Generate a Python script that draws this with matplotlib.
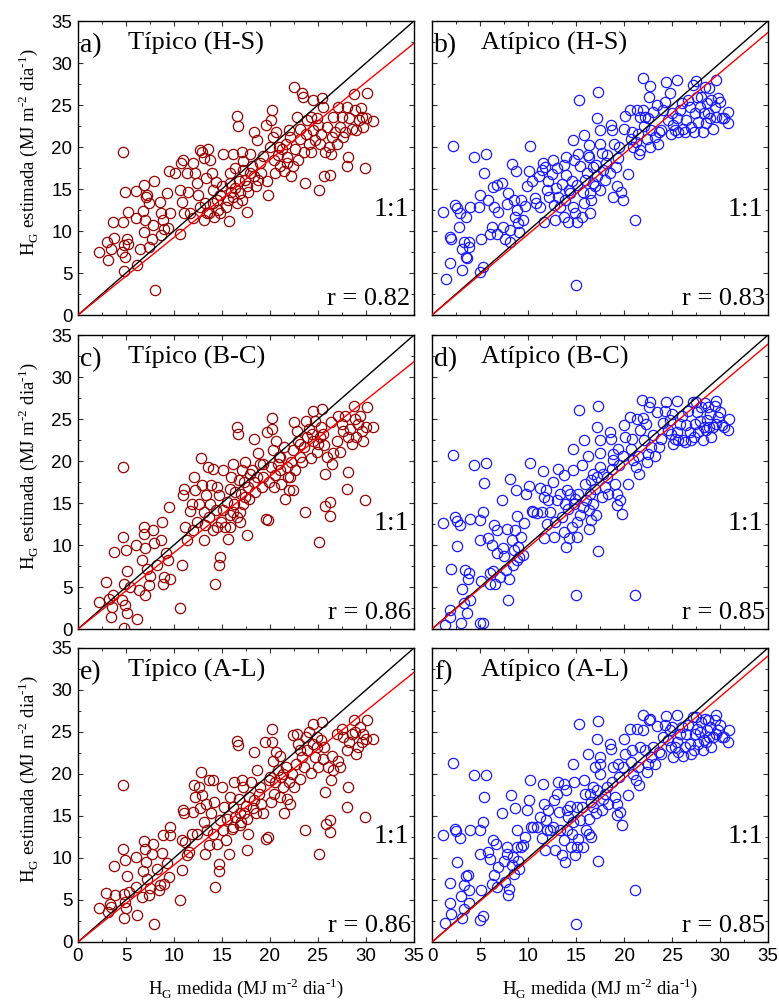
import numpy as np
import matplotlib
matplotlib.use('Agg')
import matplotlib.pyplot as plt

plt.rcParams['font.family'] = 'Liberation Serif'
plt.rcParams['mathtext.fontset'] = 'custom'
plt.rcParams['mathtext.rm'] = 'Liberation Serif'

tip_hs = np.array([
    (2.15, 7.5), (3.0, 8.7), (3.1, 6.5), (3.4, 7.9), (3.7, 11.1), (3.8, 9.2), (4.6, 7.5), (4.75, 8.3),
    (4.7, 19.4), (4.9, 14.6), (4.75, 5.2), (4.9, 6.9), (5.1, 9.1), (5.2, 12.3), (4.7, 11.1), (5.2, 8.5),
    (6.0, 14.8), (6.0, 11.6), (6.1, 6.0), (6.5, 7.9), (6.8, 12.4), (6.9, 15.5), (7.1, 14.1), (7.2, 14.3),
    (7.0, 11.3), (6.9, 9.9), (7.4, 13.3), (7.4, 8.1), (7.7, 9.0), (7.9, 15.9), (7.8, 10.7), (8.0, 3.0),
    (8.5, 13.5), (8.6, 12.1), (8.6, 9.5), (8.9, 11.3), (9.0, 10.2), (9.3, 14.5), (9.4, 10.3), (9.5, 17.1),
    (9.6, 12.2), (10.1, 16.9), (10.6, 9.7), (10.75, 18.1), (10.65, 14.9), (10.9, 18.5), (10.8, 13.5),
    (11.0, 12.1), (11.45, 14.7), (11.35, 16.9), (11.97, 18.1), (12.0, 11.5), (12.2, 16.9), (12.4, 15.7),
    (12.55, 14.3), (12.66, 19.6), (12.9, 19.4), (13.1, 18.7), (13.1, 11.3), (13.25, 13.3), (13.35, 16.3),
    (13.5, 19.8), (13.7, 12.1), (13.8, 18.5), (14.0, 16.9), (14.1, 14.9), (14.2, 11.7), (14.4, 15.8),
    (14.5, 13.7), (14.6, 12.5), (14.8, 14.3), (15.0, 15.3), (15.15, 19.2), (15.4, 12.9), (15.6, 13.7),
    (15.7, 11.2), (15.85, 16.9), (15.95, 14.7), (16.2, 19.2), (16.4, 17.5), (16.6, 23.7), (16.7, 22.5),
    (16.55, 13.3), (16.8, 15.9), (16.9, 14.5), (17.05, 19.4), (17.2, 18.3), (17.2, 17.3), (17.4, 16.1),
    (17.65, 12.3), (17.75, 14.7), (17.9, 19.2), (18.1, 17.7), (18.35, 21.8), (18.55, 15.3), (18.7, 20.8),
    (19.0, 18.1), (19.3, 18.9), (19.6, 22.6), (19.8, 14.3), (20.0, 20.0), (20.1, 23.2), (20.2, 24.4),
    (20.3, 21.2), (20.5, 16.9), (20.6, 21.8), (20.8, 19.0), (21.05, 17.7), (21.3, 19.8), (21.5, 17.1),
    (21.7, 20.4), (21.8, 18.8), (21.95, 22.0), (22.2, 16.5), (22.4, 17.7), (22.5, 27.1), (22.6, 19.8),
    (22.85, 23.6), (22.95, 18.5), (23.1, 21.0), (23.3, 26.4), (23.4, 26.0), (23.5, 19.4), (23.65, 15.7),
    (23.75, 21.6), (23.9, 23.2), (24.1, 20.4), (24.25, 19.4), (24.45, 25.6), (24.5, 22.0), (24.7, 20.8),
    (24.9, 23.4), (25.05, 22.6), (25.15, 14.9), (25.3, 21.6), (25.4, 25.8), (25.5, 24.8), (25.6, 16.5),
    (25.7, 19.4), (25.9, 22.4), (26.25, 16.7), (26.35, 19.2), (26.5, 21.2), (26.6, 23.6), (26.95, 20.4),
    (27.1, 24.8), (27.3, 22.4), (27.5, 23.6), (27.6, 21.2), (27.8, 21.8), (28.0, 17.7), (28.15, 18.8),
    (28.0, 24.8), (28.25, 23.4), (28.5, 22.2), (28.75, 26.3), (28.85, 24.4), (29.0, 22.0), (29.3, 23.2),
    (29.45, 24.6), (29.55, 23.6), (29.65, 22.4), (29.9, 17.5), (30.0, 23.4), (30.1, 26.4), (30.7, 23.1),
    (14.1, 13.3), (14.8, 12.1), (16.2, 14.1), (17.05, 13.7), (17.6, 15.3), (18.3, 16.5), (19.1, 16.9),
    (19.7, 15.9), (20.4, 18.5), (20.9, 20.0), (21.75, 18.1), (22.1, 21.2), (23.1, 22.2), (24.3, 23.6),
    (25.2, 20.4), (26.1, 20.0), (26.8, 21.8), (13.4, 12.1), (15.85, 15.7), (16.4, 15.1), (17.9, 16.9),
    (18.8, 16.1), (12.7, 12.9), (11.7, 12.1),
])

atip_hs = np.array([
    (1.14, 12.3), (1.5, 4.25), (1.9, 9.25), (1.97, 9.0), (1.9, 6.15), (2.18, 20.1), (2.42, 13.1),
    (2.6, 12.7), (2.77, 10.5), (2.88, 12.1), (3.1, 5.3), (3.1, 7.9), (3.3, 8.7), (3.5, 11.7), (3.5, 6.9),
    (3.6, 6.75), (3.8, 8.1), (3.8, 8.7), (4.0, 12.9), (4.4, 18.85), (4.85, 12.8), (4.95, 5.15), (5.0, 14.3),
    (5.1, 9.1), (5.3, 5.75), (5.45, 16.9), (5.65, 19.2), (5.8, 13.7), (6.0, 9.7), (6.25, 10.5), (6.4, 15.2),
    (6.5, 12.9), (6.75, 15.5), (6.75, 9.7), (6.9, 12.3), (7.3, 15.75), (7.4, 10.5), (7.6, 9.1), (7.8, 13.2),
    (7.95, 14.5), (8.1, 10.1), (8.15, 8.7), (8.3, 18.0), (8.5, 13.7), (8.65, 11.7), (8.75, 17.1), (8.8, 12.5),
    (9.0, 10.9), (9.1, 9.9), (9.25, 13.7), (9.45, 11.3), (9.7, 13.0), (9.9, 15.3), (10.05, 17.1),
    (10.2, 20.1), (10.4, 15.9), (10.75, 13.9), (10.85, 13.3), (11.1, 16.5), (11.2, 12.9), (11.45, 17.3),
    (11.6, 18.05), (11.7, 11.1), (11.8, 17.65), (11.95, 14.9), (12.1, 15.9), (12.2, 14.1), (12.5, 16.8),
    (12.65, 18.5), (12.7, 13.1), (12.8, 11.3), (12.9, 15.1), (13.05, 17.5), (13.15, 14.1), (13.3, 12.9),
    (13.5, 15.6), (13.7, 11.7), (13.75, 17.9), (13.85, 13.7), (13.95, 16.7), (14.0, 18.85), (14.2, 11.1),
    (14.3, 14.9), (14.4, 14.5), (14.55, 15.9), (14.65, 12.9), (14.7, 20.8), (14.8, 18.45), (14.9, 12.1),
    (15.0, 3.6), (15.1, 11.1), (15.15, 15.5), (15.25, 19.2), (15.35, 25.6), (15.4, 17.7), (15.6, 11.7),
    (15.7, 14.7), (15.8, 21.4), (15.85, 13.3), (15.95, 16.1), (16.1, 16.9), (16.2, 19.05), (16.3, 20.2),
    (16.4, 18.85), (16.45, 12.1), (16.5, 14.5), (16.6, 13.7), (16.75, 15.75), (16.8, 17.65), (17.0, 15.3),
    (17.1, 17.9), (17.15, 16.5), (17.2, 23.4), (17.3, 26.5), (17.45, 22.0), (17.45, 20.35), (17.5, 14.9),
    (17.7, 19.25), (17.85, 17.3), (18.0, 16.1), (18.1, 18.05), (18.25, 19.05), (18.5, 16.9), (18.6, 22.6),
    (18.7, 22.0), (18.8, 14.1), (18.95, 20.4), (19.15, 17.65), (19.3, 15.3), (19.4, 18.65), (19.5, 20.0),
    (19.65, 14.7), (19.85, 13.7), (20.0, 22.1), (20.1, 23.7), (20.45, 16.8), (20.6, 24.4), (20.7, 20.9),
    (20.8, 21.8), (20.95, 20.0), (21.15, 11.3), (21.25, 20.6), (21.3, 24.4), (21.5, 21.6), (21.6, 19.2),
    (21.65, 19.7), (21.7, 23.6), (21.95, 28.2), (22.0, 24.4), (22.05, 22.5), (22.2, 23.6), (22.35, 21.0),
    (22.5, 23.4), (22.6, 26.0), (22.7, 27.3), (22.75, 20.0), (22.85, 22.0), (23.05, 24.2), (23.2, 21.2),
    (23.4, 25.0), (23.55, 20.35), (23.65, 21.8), (23.9, 22.0), (24.1, 24.4), (24.25, 25.4), (24.4, 27.7),
    (24.6, 23.2), (24.8, 26.4), (24.85, 21.6), (24.95, 24.0), (25.1, 22.6), (25.3, 22.0), (25.5, 28.0),
    (25.55, 23.4), (25.65, 21.8), (25.8, 24.4), (26.0, 25.2), (26.15, 22.2), (26.3, 21.8), (26.5, 23.2),
    (26.7, 25.6), (26.85, 24.8), (27.0, 22.4), (27.15, 27.4), (27.25, 21.8), (27.4, 24.0), (27.5, 27.8),
    (27.6, 26.0), (27.7, 23.0), (27.9, 24.8), (28.05, 26.0), (28.25, 21.8), (28.3, 24.0), (28.4, 27.2),
    (28.5, 22.8), (28.65, 25.2), (28.75, 24.0), (28.85, 27.0), (29.0, 23.4), (29.1, 25.6), (29.3, 22.2),
    (29.45, 24.8), (29.55, 28.0), (29.6, 23.6), (29.8, 25.8), (30.0, 25.4), (30.25, 23.4), (30.4, 23.4),
    (30.85, 24.2), (30.85, 22.8),
])

tip_bc = np.array([
    (2.15, 3.25), (2.95, 5.6), (3.2, 3.6), (3.4, 1.45), (3.55, 2.65), (3.7, 4.0), (3.8, 9.2), (4.7, 19.3),
    (4.7, 10.9), (4.6, 3.5), (4.75, 0.15), (4.8, 5.35), (4.9, 2.85), (5.0, 9.45), (5.1, 1.95), (5.15, 6.9),
    (5.4, 5.0), (6.05, 10.0), (6.15, 1.25), (6.4, 4.6), (6.65, 8.2), (6.85, 12.1), (6.9, 11.3), (7.0, 9.6),
    (7.0, 4.0), (7.2, 7.2), (7.35, 5.2), (7.5, 6.3), (7.8, 11.8), (7.9, 10.2), (8.2, 7.6), (8.6, 10.55),
    (8.8, 12.75), (8.9, 5.4), (8.95, 6.2), (9.15, 9.0), (9.4, 8.2), (9.5, 14.5), (9.55, 6.0), (10.65, 2.45),
    (10.8, 7.6), (10.9, 15.9), (11.0, 16.7), (11.2, 12.15), (11.4, 10.55), (11.7, 14.1), (11.85, 14.9),
    (11.97, 11.75), (12.05, 18.1), (12.2, 16.5), (12.4, 12.75), (12.65, 14.9), (12.85, 20.3), (12.9, 17.1),
    (13.1, 13.95), (13.15, 10.55), (13.25, 12.35), (13.35, 15.9), (13.5, 19.3), (13.6, 13.35), (13.75, 14.9),
    (13.85, 17.1), (14.05, 19.1), (14.1, 11.75), (14.3, 5.4), (14.4, 14.15), (14.45, 16.9), (14.65, 7.6),
    (14.75, 8.6), (14.65, 15.9), (14.9, 12.75), (15.1, 18.9), (15.15, 14.15), (15.3, 12.15), (15.5, 15.1),
    (15.6, 10.75), (15.8, 16.7), (15.85, 13.55), (15.95, 18.1), (16.2, 19.7), (16.25, 14.9), (16.4, 16.3),
    (16.55, 13.35), (16.6, 24.0), (16.7, 23.2), (16.8, 17.7), (16.9, 12.75), (16.95, 16.1), (17.05, 18.9),
    (17.2, 14.9), (17.3, 17.5), (17.4, 19.9), (17.65, 11.15), (17.75, 16.9), (17.85, 15.5), (17.9, 18.5),
    (18.1, 18.9), (18.3, 22.6), (18.45, 16.3), (18.6, 18.1), (18.8, 20.9), (19.0, 19.7), (19.15, 16.9),
    (19.3, 18.1), (19.6, 13.15), (19.65, 23.4), (19.75, 12.95), (19.95, 17.5), (20.1, 19.3), (20.2, 25.1),
    (20.2, 23.8), (20.3, 21.3), (20.4, 16.9), (20.5, 18.3), (20.65, 22.4), (20.8, 19.7), (20.9, 20.5),
    (21.05, 18.9), (21.2, 17.3), (21.5, 21.65), (21.6, 15.5), (21.75, 19.3), (21.9, 18.1), (22.0, 16.5),
    (22.15, 19.9), (22.35, 21.3), (22.45, 16.5), (22.55, 24.6), (22.6, 18.9), (22.85, 23.6), (22.95, 22.4),
    (23.15, 20.5), (23.3, 19.9), (23.5, 21.65), (23.65, 13.9), (23.75, 24.8), (23.9, 22.8), (24.1, 23.8),
    (24.25, 20.3), (24.45, 26.0), (24.5, 22.4), (24.7, 24.8), (24.9, 21.05), (25.05, 22.05), (25.15, 10.4),
    (25.3, 24.0), (25.4, 26.2), (25.5, 23.2), (25.6, 21.85), (25.7, 18.5), (25.7, 14.7), (25.9, 20.5),
    (26.25, 13.5), (26.25, 15.1), (26.35, 24.6), (26.45, 19.7), (26.6, 20.9), (26.95, 22.4), (27.1, 25.4),
    (27.3, 21.05), (27.5, 24.4), (27.65, 23.6), (27.8, 25.4), (28.0, 16.7), (28.15, 18.7), (28.15, 22.8),
    (28.35, 23.8), (28.5, 22.05), (28.75, 26.6), (28.85, 25.0), (29.0, 22.8), (29.2, 24.4), (29.4, 25.4),
    (29.55, 23.6), (29.7, 22.4), (29.9, 15.4), (30.0, 24.0), (30.1, 26.4), (30.7, 24.0),
    (16.2, 13.9), (17.4, 15.7), (18.3, 17.5), (16.9, 13.9), (15.85, 12.15), (14.45, 12.15), (19.3, 19.7),
    (21.05, 20.5), (22.1, 18.1), (23.15, 22.05), (24.35, 23.2), (25.2, 22.8),
])

atip_bc = np.array([
    (1.14, 12.6), (1.4, 0.5), (1.9, 2.25), (1.85, 1.4), (1.97, 7.1), (2.18, 20.7), (2.42, 13.3), (2.6, 12.9),
    (2.65, 9.85), (2.88, 12.35), (3.0, 0.75), (3.1, 4.8), (3.35, 3.05), (3.45, 7.0), (3.65, 1.85), (3.7, 6.0),
    (3.8, 6.7), (4.0, 3.5), (4.0, 13.15), (4.4, 19.55), (4.95, 10.55), (4.95, 12.95), (5.0, 0.67), (5.1, 5.75),
    (5.3, 0.75), (5.35, 13.95), (5.45, 17.4), (5.65, 19.75), (5.8, 10.8), (6.0, 5.35), (6.05, 6.7),
    (6.25, 10.0), (6.4, 6.95), (6.5, 12.35), (6.6, 5.4), (6.75, 11.75), (6.8, 9.0), (7.1, 6.2), (7.3, 15.4),
    (7.4, 9.6), (7.5, 8.65), (7.7, 7.0), (7.85, 11.85), (7.95, 3.5), (8.05, 6.0), (8.15, 17.8), (8.3, 10.55),
    (8.4, 7.6), (8.55, 9.45), (8.65, 11.75), (8.75, 16.5), (8.85, 13.4), (8.9, 8.2), (9.0, 9.8), (9.1, 8.6),
    (9.25, 10.95), (9.45, 8.8), (9.6, 12.6), (9.8, 16.1), (10.05, 17.0), (10.2, 19.75), (10.4, 14.1),
    (10.55, 13.95), (10.9, 13.8), (11.2, 16.8), (11.45, 13.95), (11.6, 18.8), (11.7, 10.8), (11.7, 15.7),
    (11.9, 16.5), (11.95, 12.55), (12.1, 15.4), (12.3, 13.95), (12.6, 17.5), (12.7, 10.9), (12.8, 12.75),
    (13.0, 15.3), (13.15, 19.1), (13.3, 16.1), (13.5, 13.35), (13.7, 11.55), (13.75, 18.3), (13.85, 14.9),
    (13.95, 9.8), (14.05, 16.5), (14.2, 14.3), (14.3, 10.8), (14.4, 16.1), (14.55, 12.15), (14.65, 18.9),
    (14.7, 21.45), (14.8, 14.9), (14.9, 15.5), (15.0, 4.0), (15.05, 12.75), (15.15, 10.95), (15.25, 16.1),
    (15.35, 26.1), (15.4, 13.55), (15.6, 19.5), (15.7, 14.55), (15.85, 22.45), (15.95, 17.3), (16.05, 15.3),
    (16.2, 20.65), (16.3, 14.15), (16.4, 11.95), (16.45, 16.1), (16.55, 17.7), (16.6, 12.95), (16.75, 18.5),
    (16.8, 14.9), (17.0, 16.7), (17.1, 13.55), (17.15, 18.1), (17.2, 24.1), (17.3, 26.5), (17.3, 9.3),
    (17.45, 22.45), (17.45, 20.95), (17.5, 19.3), (17.7, 15.7), (17.85, 18.5), (18.0, 16.9), (18.2, 18.1),
    (18.35, 16.1), (18.55, 23.45), (18.6, 22.65), (18.7, 19.1), (18.8, 20.85), (18.9, 20.1), (19.05, 17.3),
    (19.25, 14.75), (19.3, 16.1), (19.4, 21.45), (19.5, 19.5), (19.6, 15.3), (19.75, 13.75), (19.9, 20.65),
    (20.0, 24.25), (20.1, 22.85), (20.45, 17.3), (20.6, 25.2), (20.7, 21.45), (20.8, 22.65), (20.95, 20.15),
    (21.15, 4.05), (21.2, 19.3), (21.4, 25.0), (21.5, 20.65), (21.6, 18.5), (21.7, 23.65), (21.85, 27.3),
    (22.0, 25.15), (22.05, 22.45), (22.3, 24.45), (22.4, 19.9), (22.5, 20.85), (22.6, 26.4), (22.7, 27.0),
    (22.85, 21.65), (23.05, 23.15), (23.2, 20.65), (23.4, 25.8), (23.65, 21.65), (23.9, 22.65), (24.1, 24.5),
    (24.25, 26.0), (24.4, 27.0), (24.6, 23.65), (24.8, 24.9), (24.85, 23.25), (24.95, 25.6), (25.1, 22.05),
    (25.3, 22.65), (25.5, 27.1), (25.55, 23.45), (25.65, 22.45), (25.8, 24.45), (26.0, 25.4), (26.15, 22.45),
    (26.3, 22.25), (26.5, 24.25), (26.7, 26.0), (26.85, 23.45), (27.0, 22.45), (27.15, 27.0), (27.25, 22.85),
    (27.4, 24.45), (27.5, 27.0), (27.6, 25.8), (27.7, 23.45), (27.9, 24.8), (28.05, 26.4), (28.25, 22.45),
    (28.3, 24.05), (28.4, 26.9), (28.5, 23.65), (28.65, 24.9), (28.75, 26.4), (28.85, 24.05), (29.0, 25.6),
    (29.1, 22.85), (29.3, 24.05), (29.45, 26.6), (29.55, 27.2), (29.6, 24.45), (29.8, 25.2), (30.0, 25.8),
    (30.25, 24.25), (30.4, 24.1), (30.85, 23.65), (30.95, 25.0),
])

tip_al = np.array([
    (2.15, 4.1), (2.95, 5.85), (3.1, 3.6), (3.35, 4.5), (3.45, 4.2), (3.8, 9.1), (3.9, 5.55), (4.7, 18.65),
    (4.7, 11.05), (4.75, 5.7), (4.75, 2.9), (4.9, 9.8), (4.9, 4.75), (5.0, 4.0), (5.1, 7.8), (5.3, 5.95),
    (6.05, 10.1), (6.0, 6.6), (6.15, 3.2), (6.65, 5.35), (6.75, 8.45), (6.9, 12.0), (7.0, 11.1), (7.1, 9.5),
    (7.2, 7.55), (7.35, 5.55), (7.5, 6.45), (7.7, 10.5), (7.8, 11.7), (7.95, 2.2), (8.2, 8.75), (8.4, 6.15),
    (8.5, 6.75), (8.75, 10.6), (8.85, 12.7), (8.95, 6.95), (9.25, 9.35), (9.45, 7.75), (9.55, 13.7),
    (9.6, 12.7), (10.6, 5.05), (10.8, 8.55), (10.8, 12.2), (10.9, 15.75), (11.0, 15.3), (11.15, 11.9),
    (11.4, 10.3), (11.6, 10.7), (11.85, 12.9), (11.97, 15.5), (12.05, 18.65), (12.2, 17.25), (12.4, 12.9),
    (12.65, 18.45), (12.75, 15.9), (12.85, 20.25), (12.9, 17.45), (13.1, 14.3), (13.2, 10.5), (13.35, 16.45),
    (13.4, 13.3), (13.6, 19.25), (13.7, 11.5), (13.85, 15.3), (14.05, 19.25), (14.1, 12.9), (14.2, 16.65),
    (14.3, 6.6), (14.45, 11.7), (14.65, 9.3), (14.7, 8.5), (14.8, 14.5), (15.0, 18.45), (15.1, 13.3),
    (15.2, 16.05), (15.45, 12.1), (15.55, 14.7), (15.7, 10.5), (15.85, 17.25), (16.0, 13.5), (16.2, 16.05),
    (16.25, 19.05), (16.4, 14.9), (16.55, 23.9), (16.7, 23.5), (16.8, 17.05), (16.9, 13.9), (16.95, 14.3),
    (17.05, 19.25), (17.15, 18.45), (17.3, 15.3), (17.5, 16.25), (17.65, 10.9), (17.75, 12.9), (17.85, 17.25),
    (18.0, 19.05), (18.2, 15.9), (18.35, 22.6), (18.55, 15.3), (18.7, 20.45), (18.9, 17.65), (19.05, 16.45),
    (19.25, 15.3), (19.5, 23.8), (19.6, 12.3), (19.8, 12.5), (19.95, 19.25), (20.1, 16.65), (20.2, 25.4),
    (20.2, 23.8), (20.3, 21.6), (20.45, 17.65), (20.55, 19.05), (20.65, 22.6), (20.8, 20.45), (21.0, 17.25),
    (21.05, 22.2), (21.2, 19.65), (21.4, 18.45), (21.5, 15.3), (21.7, 20.85), (21.8, 17.05), (22.0, 19.05),
    (22.1, 16.45), (22.25, 20.05), (22.45, 24.6), (22.5, 18.45), (22.7, 21.25), (22.85, 24.8), (22.95, 23.6),
    (23.15, 19.45), (23.3, 22.0), (23.5, 20.85), (23.65, 13.3), (23.75, 24.4), (23.9, 22.8), (24.1, 25.0),
    (24.25, 20.1), (24.45, 26.0), (24.5, 23.6), (24.7, 22.0), (24.9, 23.2), (25.05, 20.85), (25.15, 10.45),
    (25.3, 24.0), (25.4, 26.2), (25.5, 21.8), (25.6, 23.2), (25.75, 17.85), (25.85, 14.1), (26.0, 20.85),
    (26.25, 14.55), (26.3, 13.1), (26.35, 19.25), (26.45, 22.2), (26.6, 20.45), (26.95, 24.8), (27.1, 21.6),
    (27.3, 20.85), (27.5, 25.4), (27.65, 24.4), (28.0, 16.05), (28.15, 18.45), (28.05, 22.8), (28.25, 23.8),
    (28.5, 24.8), (28.75, 26.45), (28.85, 25.0), (28.95, 22.4), (29.2, 23.2), (29.4, 25.6), (29.55, 23.8),
    (29.65, 24.8), (29.9, 14.9), (30.0, 24.2), (30.1, 26.4), (30.7, 24.2),
    (16.2, 13.7), (17.6, 14.7), (19.0, 18.45), (16.9, 15.3), (18.3, 16.85), (20.0, 19.65), (21.4, 20.05),
    (23.15, 22.8), (24.9, 24.4),
])

atip_al = np.array([
    (1.14, 12.7), (1.4, 2.25), (1.9, 7.0), (1.9, 4.65), (1.97, 3.3), (2.18, 21.3), (2.42, 13.5), (2.5, 13.2),
    (2.65, 9.5), (2.88, 12.4), (3.0, 5.45), (3.1, 2.9), (3.3, 6.75), (3.35, 3.95), (3.55, 7.8), (3.7, 7.95),
    (3.8, 6.15), (3.9, 4.65), (4.0, 13.3), (4.4, 19.85), (4.95, 13.3), (5.0, 10.5), (5.0, 2.65), (5.1, 6.15),
    (5.3, 3.05), (5.35, 14.3), (5.45, 17.25), (5.65, 19.85), (5.8, 10.7), (6.05, 9.9), (6.25, 6.95),
    (6.4, 12.1), (6.5, 7.95), (6.7, 11.7), (6.75, 6.55), (6.9, 8.9), (7.3, 15.3), (7.45, 9.7), (7.6, 7.15),
    (7.8, 10.5), (7.85, 11.3), (7.95, 5.55), (8.05, 6.35), (8.2, 17.45), (8.3, 9.15), (8.4, 10.1), (8.5, 8.15),
    (8.65, 15.9), (8.85, 11.3), (8.9, 13.3), (9.0, 9.7), (9.1, 8.75), (9.25, 11.3), (9.45, 11.5), (9.7, 12.5),
    (9.9, 15.7), (10.05, 16.85), (10.2, 19.25), (10.3, 13.7), (10.55, 13.7), (10.9, 13.7), (11.2, 14.9),
    (11.45, 12.4), (11.6, 18.85), (11.7, 16.4), (11.8, 10.9), (11.9, 14.5), (11.95, 13.3), (12.1, 15.7),
    (12.3, 13.3), (12.6, 13.7), (12.7, 16.85), (12.8, 11.0), (13.0, 17.65), (13.15, 19.05), (13.25, 15.5),
    (13.35, 13.3), (13.5, 10.3), (13.7, 18.85), (13.75, 12.1), (13.85, 9.5), (13.95, 18.05), (14.05, 15.7),
    (14.1, 13.3), (14.2, 14.9), (14.4, 16.25), (14.45, 11.3), (14.55, 12.9), (14.65, 14.3), (14.7, 21.25),
    (14.8, 19.05), (14.9, 10.3), (15.0, 2.2), (15.05, 16.05), (15.15, 11.3), (15.25, 12.3), (15.35, 26.0),
    (15.4, 14.5), (15.6, 16.05), (15.7, 11.3), (15.85, 19.25), (15.95, 17.65), (16.05, 13.3), (16.2, 22.4),
    (16.3, 14.7), (16.4, 12.9), (16.45, 17.65), (16.55, 16.65), (16.6, 12.5), (16.75, 18.45), (16.8, 16.05),
    (17.0, 20.85), (17.1, 15.3), (17.15, 18.05), (17.2, 24.2), (17.3, 26.3), (17.3, 9.7), (17.45, 21.25),
    (17.45, 22.0), (17.5, 20.05), (17.7, 15.7), (17.85, 17.05), (18.0, 17.65), (18.2, 18.45), (18.35, 16.45),
    (18.55, 23.6), (18.6, 23.0), (18.7, 19.05), (18.9, 20.85), (19.05, 17.25), (19.25, 15.1), (19.3, 16.45),
    (19.4, 21.25), (19.5, 19.65), (19.6, 15.5), (19.75, 13.9), (19.9, 20.85), (20.0, 24.2), (20.1, 22.4),
    (20.45, 17.45), (20.6, 25.4), (20.7, 21.4), (20.8, 22.8), (20.95, 20.05), (21.15, 6.25), (21.2, 19.25),
    (21.4, 25.4), (21.5, 20.85), (21.6, 18.65), (21.7, 23.2), (21.95, 27.0), (22.0, 25.2), (22.2, 22.8),
    (22.35, 20.25), (22.5, 21.25), (22.6, 26.4), (22.75, 26.6), (22.85, 22.0), (23.05, 23.2), (23.2, 21.25),
    (23.4, 25.7), (23.65, 22.6), (23.9, 22.4), (24.1, 24.4), (24.25, 25.8), (24.4, 26.9), (24.6, 24.0),
    (24.8, 25.2), (24.85, 23.2), (24.95, 25.6), (25.1, 22.0), (25.3, 23.2), (25.5, 27.0), (25.55, 23.8),
    (25.65, 22.6), (25.8, 24.8), (26.0, 25.6), (26.15, 22.2), (26.3, 23.2), (26.5, 24.8), (26.7, 25.8),
    (26.85, 23.6), (27.0, 22.4), (27.15, 26.8), (27.25, 22.8), (27.4, 24.8), (27.5, 26.8), (27.6, 25.4),
    (27.7, 23.6), (27.9, 25.0), (28.05, 26.2), (28.25, 22.8), (28.3, 24.0), (28.4, 26.6), (28.5, 23.8),
    (28.65, 25.2), (28.75, 26.4), (28.85, 24.4), (29.0, 25.6), (29.1, 23.2), (29.3, 24.4), (29.45, 26.4),
    (29.55, 27.0), (29.6, 24.8), (29.8, 25.2), (30.0, 25.8), (30.25, 24.4), (30.4, 24.4), (30.85, 23.8),
    (30.95, 25.2),
])

panels = [tip_hs, atip_hs, tip_bc, atip_bc, tip_al, atip_al]
letters = ['a)', 'b)', 'c)', 'd)', 'e)', 'f)']
titles = ['Típico (H-S)', 'Atípico (H-S)', 'Típico (B-C)', 'Atípico (B-C)', 'Típico (A-L)', 'Atípico (A-L)']
r_vals = ['0.82', '0.83', '0.86', '0.85', '0.86', '0.85']
fit_slope = [0.924, 0.961, 0.909, 0.969, 0.917, 0.973]   # red regression line through origin

# hyphen (U+2010) instead of the long mathtext minus in the exponents
ylab = 'H$_\\mathregular{G}$ estimada (MJ m$^{\\mathregular{\u20102}}$ dia$^{\\mathregular{\u20101}}$)'
xlab = 'H$_\\mathregular{G}$ medida (MJ m$^{\\mathregular{\u20102}}$ dia$^{\\mathregular{\u20101}}$)'

fig = plt.figure(figsize=(7.79, 10), dpi=100)
lefts = [0.1001, 0.5546]
bottoms = [0.685, 0.371, 0.058]
w, h = 0.4313, 0.294

for i, pts in enumerate(panels):
    row, col = i // 2, i % 2
    ax = fig.add_axes([lefts[col], bottoms[row], w, h])
    color = '#990000' if col == 0 else '#1a1aff'
    ax.plot(pts[:, 0], pts[:, 1], 'o', mfc='none', mec=color, ms=7.4, mew=0.9, zorder=2)
    line = np.array([0, 35])
    ax.plot(line, line, color='black', lw=1.0, zorder=3)
    ax.plot(line, fit_slope[i] * line, color='red', lw=1.0, zorder=3)

    ax.set_xlim(0, 35)
    ax.set_ylim(0, 35)
    ax.set_xticks(np.arange(0, 36, 5))
    ax.set_yticks(np.arange(0, 36, 5))
    ax.set_xticks(np.arange(2.5, 35, 5), minor=True)
    ax.set_yticks(np.arange(2.5, 35, 5), minor=True)
    ax.tick_params(which='both', direction='in', top=True, right=True, color='#333333')
    ax.tick_params(which='major', length=3.5, width=0.8, labelsize=13.5, pad=4)
    ax.tick_params(which='minor', length=2.2, width=0.7)
    for lab in ax.get_xticklabels() + ax.get_yticklabels():
        lab.set_fontfamily('Liberation Sans')
    for s in ax.spines.values():
        s.set_linewidth(1.0)

    if col == 0:
        ax.set_ylabel(ylab, fontsize=13.5, labelpad=8, y=0.555)
    else:
        ax.tick_params(labelleft=False)
    if row == 2:
        ax.set_xlabel(xlab, fontsize=13.5, labelpad=8)
    else:
        ax.tick_params(labelbottom=False)

    ax.text(0.006, 0.915, letters[i], transform=ax.transAxes, fontsize=20, va='center', ha='left')
    ax.text(0.15 if col == 0 else 0.145, 0.925, titles[i], transform=ax.transAxes, fontsize=19,
            va='center', ha='left')
    ax.text(0.985, 0.36, '1:1', transform=ax.transAxes, fontsize=20, va='center', ha='right')
    ax.text(0.99, 0.055, 'r = ' + r_vals[i], transform=ax.transAxes, fontsize=19, va='center', ha='right')

fig.savefig('out.png', dpi=100)
